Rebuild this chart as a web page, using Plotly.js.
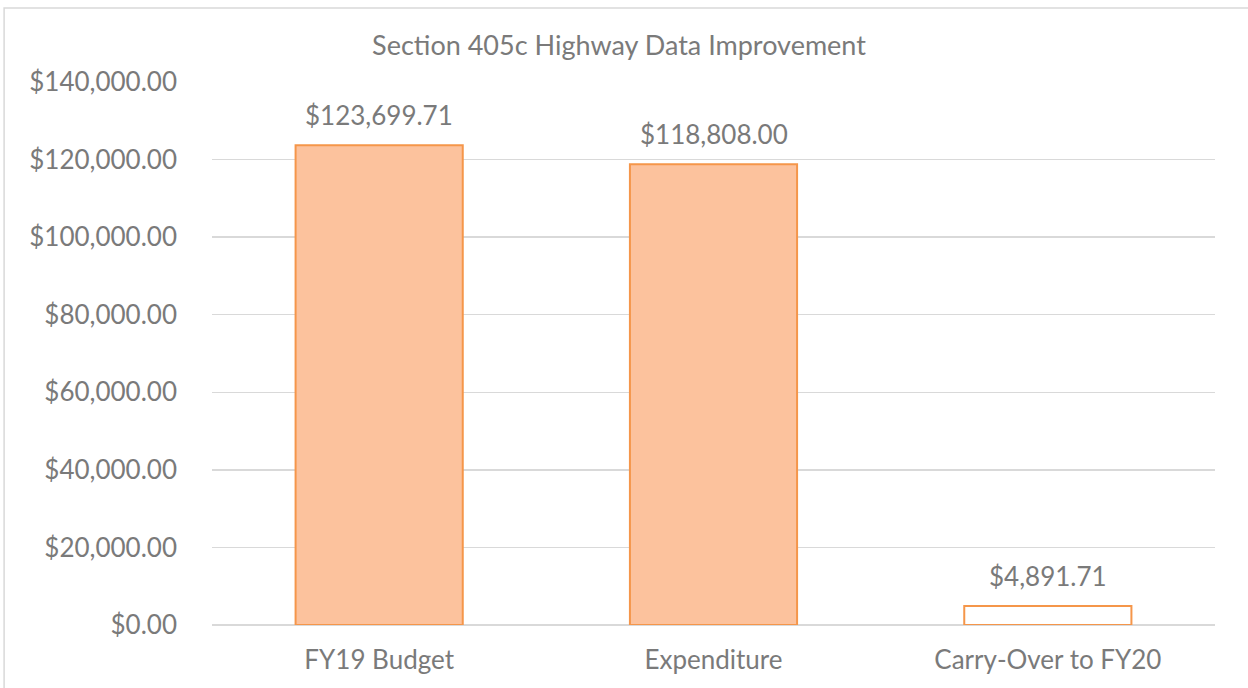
<!DOCTYPE html>
<html>
<head>
<meta charset="utf-8">
<script src="https://cdn.plot.ly/plotly-3.0.1.min.js"></script>
<style>html,body{margin:0;padding:0;background:#fff;}#chart{width:1248px;height:688px;}</style>
</head>
<body>
<div id="chart"></div>
<script>
const categories = ["FY19 Budget", "Expenditure", "Carry-Over to FY20"];
const amounts = [123699.71, 118808.00, 4891.71];
const barFills = ["#fcc29d", "#fcc29d", "#ffffff"];

const FONT = "Lato, 'Open Sans', sans-serif";
const TXT = "#7a7a7a";

const fmt = v => "$" + v.toLocaleString("en-US", { minimumFractionDigits: 2, maximumFractionDigits: 2 });

const trace = {
  type: "bar",
  x: categories,
  y: amounts,
  width: 0.5,
  marker: { color: barFills, line: { color: "#f5964a", width: 2 } },
  hoverinfo: "x+y"
};

const labels = categories.map((c, i) => ({
  x: c, y: amounts[i], xref: "x", yref: "y",
  text: fmt(amounts[i]), showarrow: false,
  yanchor: "bottom", yshift: 12,
  font: { family: FONT, size: 26, color: TXT }
}));

const layout = {
  width: 1248, height: 688,
  margin: { l: 212, r: 32.5, t: 82, b: 63 },
  paper_bgcolor: "#ffffff", plot_bgcolor: "#ffffff",
  showlegend: false,
  title: {
    text: "Section 405c Highway Data Improvement",
    font: { family: FONT, size: 27, color: TXT },
    x: 0.496, xanchor: "center", y: 1 - 46 / 688, yanchor: "middle"
  },
  xaxis: {
    type: "category",
    tickfont: { family: FONT, size: 26, color: TXT },
    showgrid: false, showline: false, ticks: "",
    ticklabelstandoff: 17
  },
  yaxis: {
    range: [0, 140000],
    dtick: 20000,
    tickformat: "$,.2f",
    tickfont: { family: FONT, size: 26, color: TXT },
    showgrid: true, gridcolor: "#d9d9d9", gridwidth: 1.5,
    zeroline: true, zerolinecolor: "#d9d9d9", zerolinewidth: 1.5,
    showline: false, ticks: "",
    ticklabelstandoff: 34
  },
  bargap: 0.5,
  annotations: labels,
  shapes: [{
    type: "rect", xref: "paper", yref: "paper",
    x0: (4 - 212) / 1003.5, x1: 1.1,
    y0: -0.2, y1: (625 - 8) / 543,
    line: { color: "#d9d9d9", width: 1.5 }, fillcolor: "rgba(0,0,0,0)",
    layer: "below"
  }]
};

Plotly.newPlot("chart", [trace], layout, { displayModeBar: false, staticPlot: true });
</script>
</body>
</html>
